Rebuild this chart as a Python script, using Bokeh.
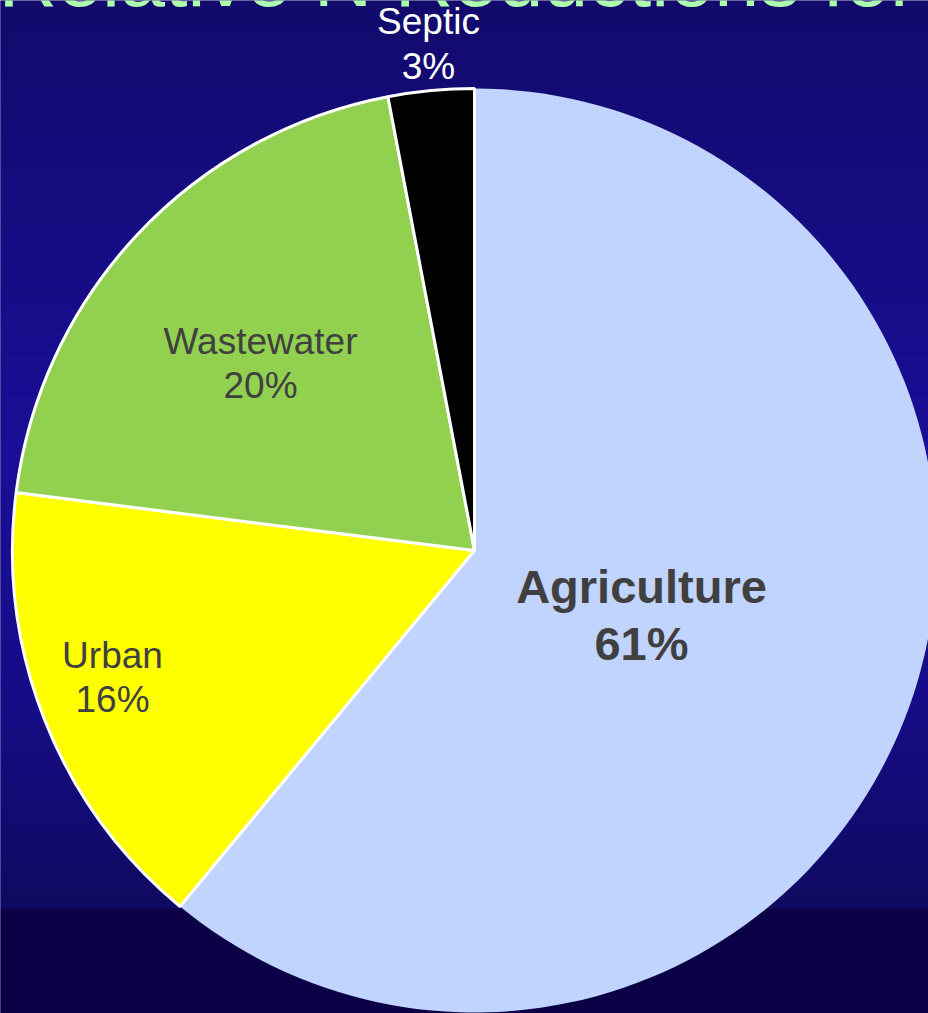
import numpy as np
from bokeh.plotting import figure
from bokeh.models import Range1d
from bokeh.core.properties import value
from bokeh.embed import file_html
from bokeh.resources import INLINE

# ---- data ----
categories = ["Agriculture", "Urban", "Wastewater", "Septic"]
shares = [61, 16, 20, 3]
pct_labels = ["61%", "16%", "20%", "3%"]
title_text = "Relative N Reductions for"

# ---- styles / layout ----
colors = ["#c1d4fd", "#ffff00", "#92d050", "#000000"]
outline = [None, "white", "white", "white"]
label_colors = ["#404040", "#404040", "#404040", "#ffffff"]
label_sizes = [47, 37, 37, 37]
label_styles = ["bold", "normal", "normal", "normal"]
# label anchor (page px): x centre, baseline of first line, baseline of second line
label_pos = [(641, 603, 660), (112, 668, 712), (260, 354, 398), (428, 34, 79)]
BASE_SHIFT = 0.36  # renderer places "alphabetic" text ~0.36em low

W, H = 928, 1013
CX, CY, R = 474, 550, 462


def px_x(x):
    return (x - CX) / R


def px_y(y):
    return (CY - y) / R


p = figure(width=W, height=H,
           x_range=Range1d(px_x(0), px_x(W)),
           y_range=Range1d(px_y(H), px_y(0)),
           output_backend="svg", toolbar_location=None,
           min_border=0)
p.axis.visible = False
p.grid.visible = False
p.outline_line_color = None
p.background_fill_color = "#120b6c"
p.border_fill_color = "#120b6c"

# ---- background gradient (slide decoration) ----
stops_y = [0, 200, 460, 700, 908]
stops_c = [(18, 11, 108), (21, 12, 128), (27, 14, 154), (23, 12, 136), (15, 10, 96)]
tops, bots, cols = [], [], []
step = 4
for y0 in range(0, 908, step):
    ym = y0 + step / 2
    rgb = [int(round(np.interp(ym, stops_y, [c[i] for c in stops_c]))) for i in range(3)]
    tops.append(px_y(y0))
    bots.append(px_y(min(y0 + step, 908)))
    cols.append("#%02x%02x%02x" % tuple(rgb))
tops.append(px_y(908))
bots.append(px_y(H) - 0.05)
cols.append("#0b0046")
p.quad(left=px_x(0) - 0.05, right=px_x(W) + 0.05, top=tops, bottom=bots,
       fill_color=cols, line_color=None)

# ---- pie ----
fr = np.array(shares, dtype=float) / sum(shares)
cum_end = np.cumsum(fr)
cum_start = cum_end - fr
start_ang = np.pi / 2 - 2 * np.pi * cum_end     # anticlockwise start
end_ang = np.pi / 2 - 2 * np.pi * cum_start

for i in range(len(categories)):
    p.wedge(x=0, y=0, radius=1.0, start_angle=start_ang[i], end_angle=end_ang[i],
            fill_color=colors[i], line_color=outline[i], line_width=3)

# ---- labels ----
for i in range(len(categories)):
    lx, b1, b2 = label_pos[i]
    fs = label_sizes[i]
    p.text(x=[px_x(lx), px_x(lx)],
           y=[px_y(b1 - BASE_SHIFT * fs), px_y(b2 - BASE_SHIFT * fs)],
           text=[categories[i], pct_labels[i]],
           text_align="center", text_baseline="alphabetic",
           text_font=value("Liberation Sans"), text_font_size="%dpx" % fs,
           text_font_style=label_styles[i], text_color=label_colors[i])

# ---- title (cut off at top of slide, as in the original) ----
TFS = 81
p.text(x=[px_x(-2)], y=[px_y(7 - BASE_SHIFT * TFS)], text=[title_text], text_align="left",
       text_baseline="alphabetic", text_font=value("Liberation Sans"),
       text_font_size="%dpx" % TFS, text_color="#adffad")

open("out.html", "w").write(file_html(p, INLINE))
